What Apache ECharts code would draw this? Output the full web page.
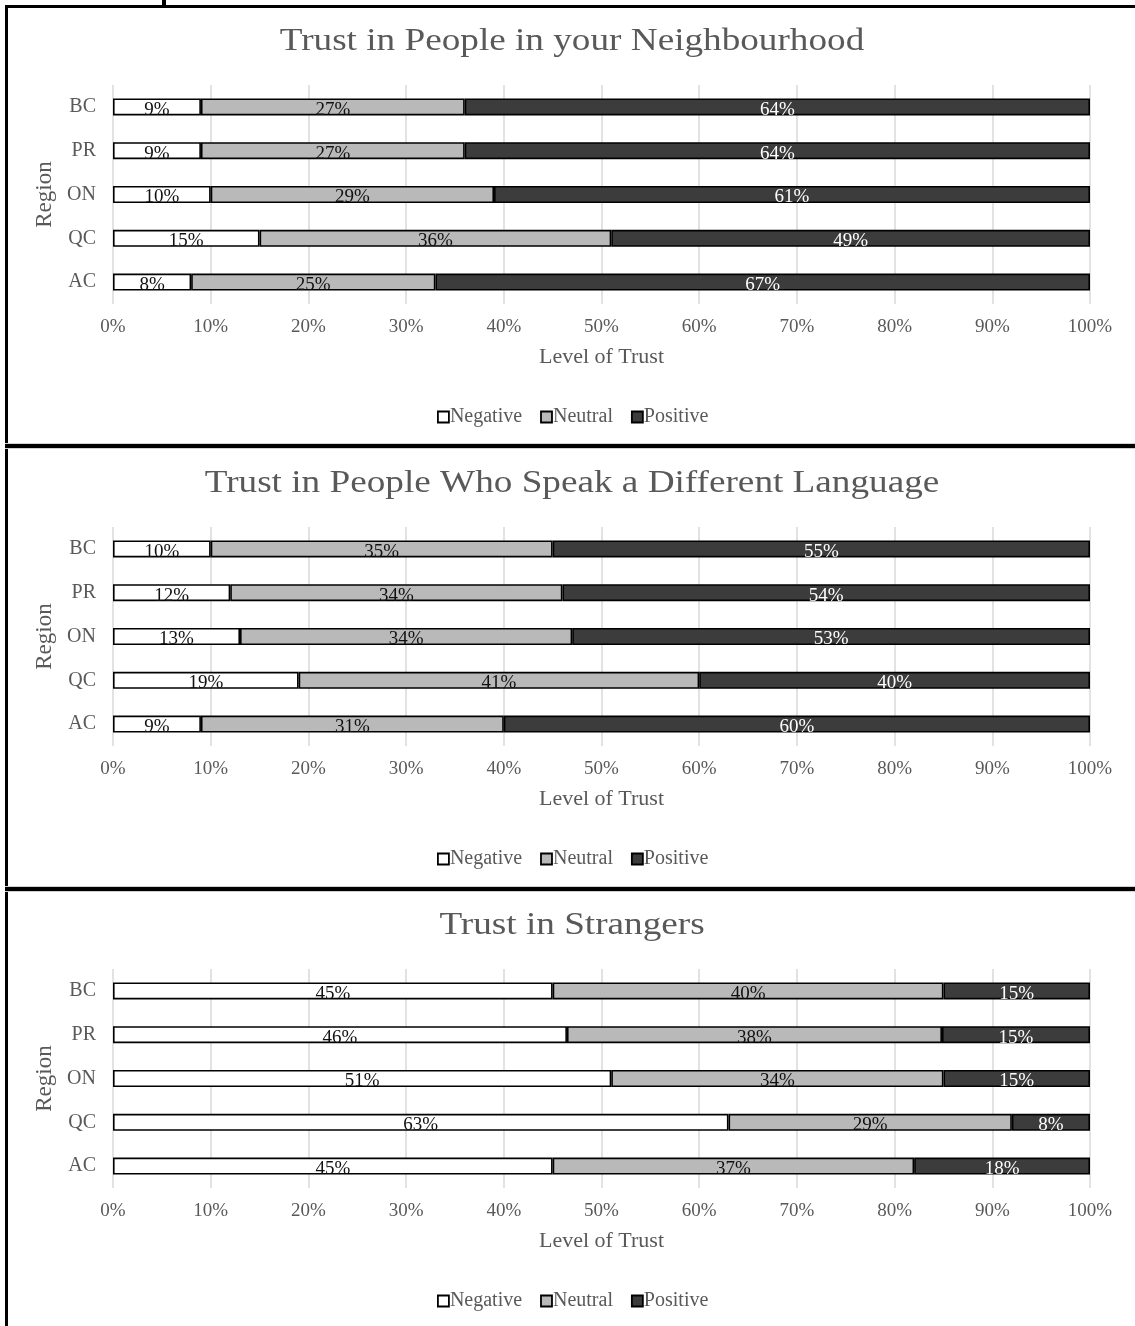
<!DOCTYPE html>
<html>
<head>
<meta charset="utf-8">
<script src="https://cdn.jsdelivr.net/npm/echarts@6/dist/echarts.min.js"></script>
<style>
  html, body { margin: 0; padding: 0; background: #fff; }
  #chart { width: 1135px; height: 1326px; }
</style>
</head>
<body>
<div id="chart"></div>
<script>
// Regions, listed top to bottom
const regions = ['BC', 'PR', 'ON', 'QC', 'AC'];
const xTicks = [0, 10, 20, 30, 40, 50, 60, 70, 80, 90, 100];
const seriesNames = ['Negative', 'Neutral', 'Positive'];

const panelTitles = [
  'Trust in People in your Neighbourhood',
  'Trust in People Who Speak a Different Language',
  'Trust in Strangers'
];

// Percent of respondents per region (BC, PR, ON, QC, AC)
const neighbourNegative = [9, 9, 10, 15, 8];
const neighbourNeutral  = [27, 27, 29, 36, 25];
const neighbourPositive = [64, 64, 61, 49, 67];

const languageNegative = [10, 12, 13, 19, 9];
const languageNeutral  = [35, 34, 34, 41, 31];
const languagePositive = [55, 54, 53, 40, 60];

const strangerNegative = [45, 46, 51, 63, 45];
const strangerNeutral  = [40, 38, 34, 29, 37];
const strangerPositive = [15, 15, 15, 8, 18];

const panels = [
  [neighbourNegative, neighbourNeutral, neighbourPositive],
  [languageNegative, languageNeutral, languagePositive],
  [strangerNegative, strangerNeutral, strangerPositive]
];

const FONT = '"Liberation Serif", "Times New Roman", serif';
const GREY_TEXT = '#595959';
const fills = ['#ffffff', '#b9b9b9', '#3c3c3c'];
const labelColors = ['#111111', '#111111', '#ffffff'];

const PANEL_STEP = 442;
const GRID_TOP = 85;
const GRID_H = 219;
const GRID_LEFT = 113;
const GRID_RIGHT = 45;

const grids = [], xAxes = [], yAxes = [], legends = [], series = [], titleTexts = [];

panels.forEach((groups, p) => {
  const off = p * PANEL_STEP;
  // panel heading, set a little wide
  titleTexts.push({
    type: 'text',
    x: 572,
    y: off + 42,
    scaleX: 1.2,
    silent: true,
    style: {
      text: panelTitles[p],
      font: '31px ' + FONT,
      fill: GREY_TEXT,
      align: 'center',
      verticalAlign: 'middle'
    }
  });
  grids.push({ left: GRID_LEFT, right: GRID_RIGHT, top: off + GRID_TOP, height: GRID_H, containLabel: false });
  xAxes.push({
    gridIndex: p,
    type: 'value',
    min: 0, max: 100, interval: 10,
    name: 'Level of Trust',
    nameLocation: 'middle',
    nameGap: 42,
    nameTextStyle: { fontFamily: FONT, fontSize: 22, color: GREY_TEXT },
    axisLine: { show: false },
    axisTick: { show: false },
    axisLabel: {
      fontFamily: FONT, fontSize: 19, color: GREY_TEXT, margin: 14,
      formatter: v => (xTicks.includes(v) ? v + '%' : '')
    },
    splitLine: { show: true, lineStyle: { color: '#d9d9d9', width: 1.5 } }
  });
  yAxes.push({
    gridIndex: p,
    type: 'category',
    data: regions,
    inverse: true,
    name: 'Region',
    nameLocation: 'middle',
    nameGap: 55,
    nameRotate: 90,
    nameTextStyle: { fontFamily: FONT, fontSize: 23, color: GREY_TEXT },
    axisLine: { show: false },
    axisTick: { show: false },
    axisLabel: { fontFamily: FONT, fontSize: 20, color: GREY_TEXT, margin: 17, padding: [4, 0, 0, 0] }
  });
  legends.push({
    data: seriesNames,
    top: off + 402,
    left: 432,
    icon: 'rect',
    itemWidth: 11,
    itemHeight: 11,
    itemGap: 18,
    selectedMode: false,
    itemStyle: { borderColor: '#000', borderWidth: 1.8 },
    textStyle: { fontFamily: FONT, fontSize: 20, color: GREY_TEXT, padding: [0, 0, 0, -4] }
  });

  // row totals, so every bar fills the 0–100% axis like a 100% stacked bar
  const totals = regions.map((_, i) => groups.reduce((s, g) => s + g[i], 0));

  groups.forEach((vals, k) => {
    series.push({
      name: seriesNames[k],
      type: 'bar',
      xAxisIndex: p,
      yAxisIndex: p,
      stack: 'panel' + p,
      barWidth: 17,
      data: vals.map((v, i) => ({ value: v / totals[i] * 100, raw: v })),
      itemStyle: { color: fills[k], borderColor: '#000', borderWidth: 1.6 },
      label: {
        show: true,
        position: 'inside',
        offset: [0, 3],
        fontFamily: FONT,
        fontSize: 19,
        color: labelColors[k],
        formatter: prm => prm.data.raw + '%'
      },
      emphasis: { disabled: true }
    });
  });
});

// Frame around the three panels
const frame = [
  { type: 'rect', shape: { x: 162, y: 0, width: 4, height: 6 }, style: { fill: '#000' } },
  { type: 'rect', shape: { x: 5, y: 5, width: 1130, height: 3 }, style: { fill: '#000' } },
  { type: 'rect', shape: { x: 5, y: 5, width: 3, height: 1321 }, style: { fill: '#000' } },
  { type: 'rect', shape: { x: 5, y: 443, width: 1130, height: 6 }, style: { fill: '#d0d0d0' } },
  { type: 'rect', shape: { x: 5, y: 444, width: 1130, height: 4 }, style: { fill: '#000' } },
  { type: 'rect', shape: { x: 5, y: 886, width: 1130, height: 6 }, style: { fill: '#d0d0d0' } },
  { type: 'rect', shape: { x: 5, y: 887, width: 1130, height: 4 }, style: { fill: '#000' } }
];

const chart = echarts.init(document.getElementById('chart'), null, { renderer: 'canvas' });
chart.setOption({
  backgroundColor: '#fff',
  animation: false,
  grid: grids,
  xAxis: xAxes,
  yAxis: yAxes,
  legend: legends,
  series: series,
  graphic: frame.concat(titleTexts)
});
</script>
</body>
</html>
